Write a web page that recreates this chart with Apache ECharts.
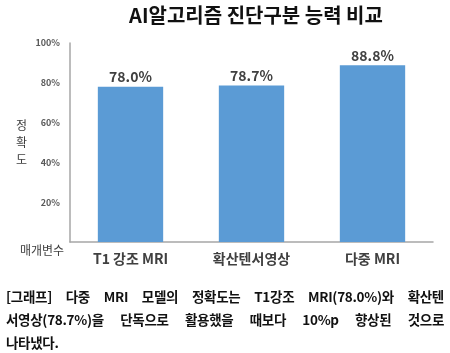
<!DOCTYPE html>
<html>
<head>
  <meta charset="utf-8">
  <title>AI알고리즘 진단구분 능력 비교</title>
  <script src="https://cdn.jsdelivr.net/npm/echarts@6/dist/echarts.min.js"></script>
  <style>
    body { margin: 0; background: #fff; }
    #wrap { position: relative; width: 450px; height: 353px; }
    #main { position: absolute; left: 0; top: 0; width: 450px; height: 353px; }
    #caption { position: absolute; left: 6px; top: 285px; width: 438px;
      font-family: "Noto Sans CJK KR", sans-serif; font-weight: bold; font-size: 13.5px;
      color: #111; line-height: 23px; letter-spacing: -0.3px; }
    #caption div { text-align: justify; text-align-last: justify; }
    #caption div.last { text-align-last: left; }
  </style>
</head>
<body>
  <div id="wrap">
    <div id="main"></div>
    <div id="caption">
      <div>[그래프] 다중 MRI 모델의 정확도는 T1강조 MRI(78.0%)와 확산텐</div>
      <div>서영상(78.7%)을 단독으로 활용했을 때보다 10%p 향상된 것으로</div>
      <div class="last">나타냈다.</div>
    </div>
  </div>
  <script>
  var categories = ['T1 강조 MRI', '확산텐서영상', '다중 MRI'];
  var accuracy = [78.0, 78.7, 88.8];
  var yTicks = [0, 20, 40, 60, 80, 100];

  var myChart = echarts.init(document.getElementById('main'));
  var font = '"Noto Sans CJK KR", sans-serif';
  myChart.setOption({
    animation: false,
    title: {
      text: 'AI알고리즘 진단구분 능력 비교',
      left: 251, top: 0, textAlign: 'center',
      textStyle: { fontFamily: font, fontSize: 20, fontWeight: 'bold', color: '#111' }
    },
    grid: { left: 70, right: 17, top: 43, bottom: 111 },
    xAxis: {
      type: 'category',
      data: categories,
      axisLine: { lineStyle: { color: '#A6A6A6', width: 1.5 } },
      axisTick: { show: false },
      axisLabel: { margin: 10, fontFamily: font, fontSize: 14, fontWeight: 'bold', color: '#404040' }
    },
    yAxis: {
      type: 'value',
      min: yTicks[0], max: yTicks[yTicks.length - 1], interval: 20,
      name: '정\n확\n도',
      nameLocation: 'middle', nameRotate: 0, nameGap: 43,
      nameTextStyle: { fontFamily: font, fontSize: 12, color: '#404040', lineHeight: 17 },
      axisLine: { show: true, lineStyle: { color: '#A6A6A6', width: 1.5 } },
      axisTick: { show: false },
      splitLine: { show: false },
      axisLabel: {
        margin: 10, fontFamily: font, fontSize: 9, fontWeight: 'bold', color: '#595959',
        formatter: function (v) { return v === 0 ? '' : v + '%'; }
      }
    },
    graphic: [{
      type: 'text', left: 20, top: 244,
      style: { text: '매개변수', font: '12px ' + font, fill: '#404040' }
    }],
    series: [{
      type: 'bar',
      data: accuracy,
      barWidth: '54%',
      itemStyle: { color: '#5B9BD5' },
      label: {
        show: true, position: 'top', distance: 3,
        fontFamily: font, fontSize: 14, fontWeight: 'bold', color: '#404040',
        formatter: function (p) { return p.value.toFixed(1) + '%'; }
      }
    }]
  });
  </script>
</body>
</html>
